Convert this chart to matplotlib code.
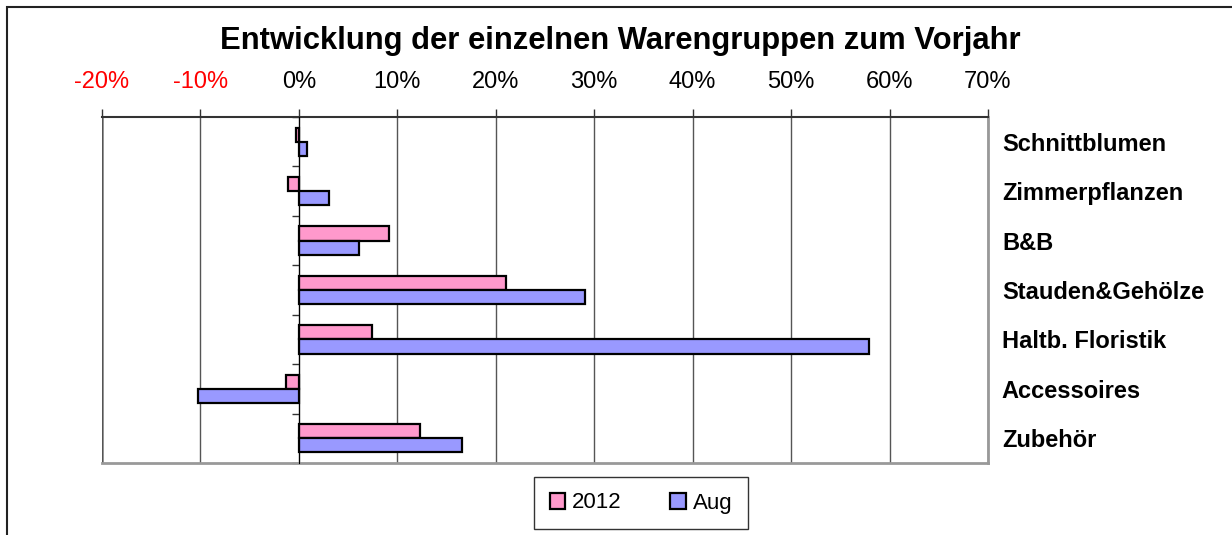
import matplotlib.pyplot as plt
import numpy as np
from matplotlib.patches import Rectangle

plt.rcParams['font.family'] = ['Liberation Sans', 'DejaVu Sans']

# Daten (Veränderung zum Vorjahr in %)
warengruppen = ["Schnittblumen", "Zimmerpflanzen", "B&B", "Stauden&Gehölze",
                "Haltb. Floristik", "Accessoires", "Zubehör"]
werte_2012 = [-0.3, -1.1, 9.2, 21.0, 7.4, -1.3, 12.3]
werte_aug = [0.8, 3.1, 6.1, 29.1, 57.9, -10.2, 16.6]
x_ticks = [-20, -10, 0, 10, 20, 30, 40, 50, 60, 70]

fig = plt.figure(figsize=(12.32, 5.35), dpi=100)
ax = fig.add_axes([102/1232, 1 - 463/535, 886/1232, 346/535])

y = np.arange(len(warengruppen))
h = 0.285
ax.barh(y - h/2, werte_2012, height=h, color='#FF99CC', edgecolor='black',
        linewidth=1.6, label='2012', zorder=3)
ax.barh(y + h/2, werte_aug, height=h, color='#9999FF', edgecolor='black',
        linewidth=1.6, label='Aug', zorder=3)

ax.set_xlim(-20, 70)
ax.set_ylim(len(warengruppen) - 0.5, -0.5)

# x-Achse oben
ax.xaxis.tick_top()
ax.set_xticks(x_ticks)
ax.set_xticklabels([f'{t}%' for t in x_ticks], fontsize=17)
for lbl, t in zip(ax.get_xticklabels(), x_ticks):
    if t < 0:
        lbl.set_color('red')
ax.tick_params(axis='x', direction='out', length=6, width=1, color='#333333', pad=11.5)
ax.grid(axis='x', color='#555555', linewidth=1, zorder=0)

# y-Achse bei 0, Beschriftung rechts
ax.spines['left'].set_position(('data', 0))
ax.spines['left'].set_color('black')
ax.spines['left'].set_zorder(4)
ax.spines['top'].set_color('#333333')
ax.spines['top'].set_linewidth(1.5)
ax.spines['right'].set_color('#999999')
ax.spines['right'].set_linewidth(2)
ax.spines['bottom'].set_color('#999999')
ax.spines['bottom'].set_linewidth(2)
ax.axvline(-20, color='#999999', linewidth=2, zorder=1)

ax.set_yticks(y)
ax.set_yticklabels(warengruppen, fontsize=17, fontweight='bold')
ax.set_yticks(np.arange(len(warengruppen) + 1) - 0.5, minor=True)
ax.tick_params(axis='y', which='major', left=False, right=False,
               labelleft=False, labelright=True, pad=6.5)
ax.tick_params(axis='y', which='minor', left=True, right=False,
               direction='out', length=5, width=1, color='#333333')

fig.text(620/1232, 1 - 41/535, 'Entwicklung der einzelnen Warengruppen zum Vorjahr',
         ha='center', va='center', fontsize=22.3, fontweight='bold')

leg = fig.legend(loc='center', bbox_to_anchor=(641/1232, 1 - 503/535), ncol=2,
                 fontsize=16, frameon=True, fancybox=False, edgecolor='black',
                 handlelength=0.7, handleheight=0.7, handletextpad=0.3,
                 columnspacing=2.2, borderpad=0.7, borderaxespad=0)
leg.get_frame().set_linewidth(1)

# Rahmen um das Diagramm
fig.patches.append(Rectangle((7/1232, -0.1), 1.2, 1 - 7/535 + 0.1,
                             transform=fig.transFigure, fill=False,
                             edgecolor='#222222', linewidth=1.5))

fig.savefig('out.png', dpi=100)
